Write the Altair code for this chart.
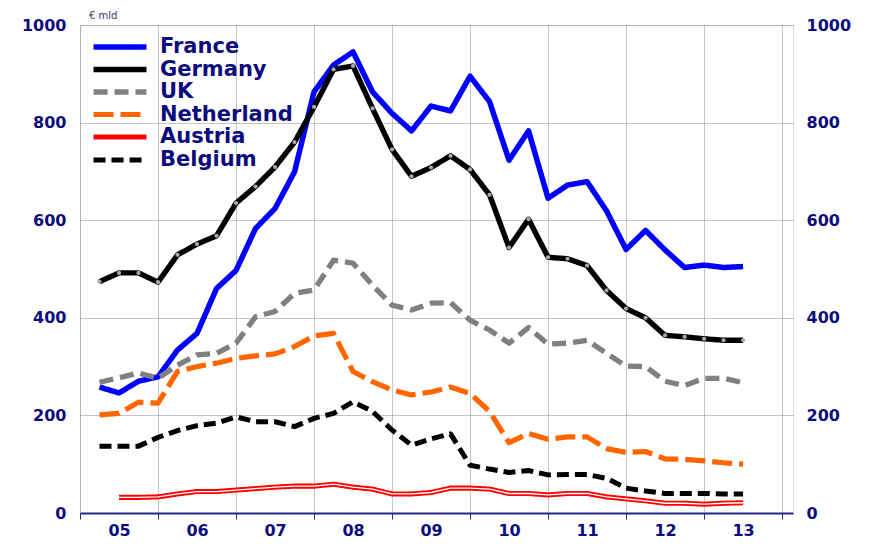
import altair as alt
import pandas as pd

# quarterly periods 2005Q1 .. 2013Q2
periods = [f"{y}Q{q}" for y in range(2005, 2014) for q in range(1, 5)][:34]

france = [258, 246, 270, 279, 334, 368, 460, 497, 583, 624, 699, 863, 918, 945, 863, 819, 783,
          834, 824, 895, 843, 723, 783, 645, 672, 679, 619, 540, 579, 539, 503, 508, 503, 505]
germany = [474, 492, 492, 473, 529, 551, 568, 635, 669, 709, 760, 832, 909, 916, 829, 745, 690,
           708, 732, 704, 652, 544, 602, 524, 521, 507, 456, 419, 400, 364, 361, 357, 354, 354]
uk = [268, 277, 287, 276, 303, 324, 327, 348, 402, 413, 450, 457, 518, 512, 467, 426, 416,
      430, 431, 395, 375, 348, 380, 346, 348, 354, 327, 301, 300, 270, 261, 276, 276, 267]
netherland = [201, 204, 227, 225, 290, 300, 307, 317, 322, 326, 341, 363, 368, 290, 269, 252, 242,
              248, 258, 245, 208, 144, 163, 151, 156, 156, 132, 124, 126, 111, 110, 107, 103, 100]
austria = [None, 32, 32, 33, 39, 44, 44, 47, 50, 53, 55, 55, 59, 53, 49, 39, 39,
           42, 51, 51, 49, 40, 40, 37, 40, 40, 33, 29, 25, 20, 20, 18, 20, 21]
belgium = [137, 137, 137, 155, 169, 179, 184, 197, 187, 187, 177, 194, 204, 228, 208, 170, 139,
           152, 162, 98, 90, 83, 87, 78, 79, 79, 71, 51, 45, 40, 40, 40, 39, 39]

countries = ["France", "Germany", "UK", "Netherland", "Austria", "Belgium"]
series = [france, germany, uk, netherland, austria, belgium]
colors = ["#0000FF", "#000000", "#808080", "#FF6600", "#FF0000", "#000000"]
dashes = [[1, 0], [1, 0], [14, 7], [20, 7], [1, 0], [12, 6]]
widths = [5.5, 5, 5.5, 6, 4, 5]
year_labels = ["05", "06", "07", "08", "09", "10", "11", "12", "13"]

rows = []
for c, vals in zip(countries, series):
    for p, v in zip(periods, vals):
        if v is None:
            continue
        t = (int(p[:4]) - 2005) * 4 + int(p[-1])
        rows.append({"country": c, "period": p, "t": t, "value": v})
df = pd.DataFrame(rows)

NAVY = "#0c0c7c"
FONT = "DejaVu Sans"
label_expr = "[" + ",".join(f"'{s}'" for s in year_labels) + "][datum.value/4] || ''"

x_enc = alt.X(
    "t:Q",
    scale=alt.Scale(domain=[0, 36.56], nice=False, zero=False),
    axis=alt.Axis(
        values=list(range(0, 37, 4)), title=None, grid=True,
        gridDash=[1, 1], gridColor="#8a8a8a", gridWidth=1,
        domainColor="#26268a", domainWidth=2,
        tickColor="#26268a", tickSize=6, tickWidth=1,
        labelOffset=39, labelExpr=label_expr, labelFont=FONT, labelFontSize=16,
        labelFontWeight="bold", labelColor=NAVY, labelOverlap=False,
        labelFlush=False, labelPadding=3,
    ),
)

y_vals = [0, 200, 400, 600, 800, 1000]
y_scale = alt.Scale(domain=[0, 1000], nice=False, zero=True)

leg = alt.Legend(
    title=None, orient="none", legendX=29, legendY=11,
    symbolType="M-3.31,0H3.31", symbolSize=256,
    labelFont=FONT, labelFontSize=21, labelFontWeight="bold", labelColor=NAVY,
    labelOffset=29, rowPadding=0.5, padding=0, labelLimit=0,
)

lines = alt.Chart(df).mark_line(strokeCap="butt", strokeJoin="round").encode(
    x=x_enc,
    y=alt.Y("value:Q", scale=y_scale, axis=alt.Axis(
        values=y_vals, format="d", title=None, grid=True, gridDash=[1, 1], gridColor="#8a8a8a",
        domain=False, ticks=False, labelPadding=14, labelFont=FONT, labelFontSize=16,
        labelFontWeight="bold", labelColor=NAVY)),
    color=alt.Color("country:N", scale=alt.Scale(domain=countries, range=colors), legend=leg),
    strokeDash=alt.StrokeDash("country:N", scale=alt.Scale(domain=countries, range=dashes), legend=leg),
    strokeWidth=alt.StrokeWidth("country:N", scale=alt.Scale(domain=countries, range=widths), legend=leg),
    order=alt.Order("t:Q"),
)

austria_core = alt.Chart(df).transform_filter("datum.country == 'Austria'").mark_line(
    color="white", strokeWidth=1.3
).encode(
    x=x_enc,
    y=alt.Y("value:Q", scale=y_scale, axis=None),
    order=alt.Order("t:Q"),
)

germany_dots = alt.Chart(df).transform_filter("datum.country == 'Germany'").mark_circle(
    color="#a8a8a8", size=18, opacity=1
).encode(
    x=x_enc,
    y=alt.Y("value:Q", scale=y_scale, axis=alt.Axis(
        orient="right", values=y_vals, format="d", title=None, grid=False, domain=False,
        ticks=False, labelPadding=13, labelFont=FONT, labelFontSize=16, labelFontWeight="bold",
        labelColor=NAVY)),
)

chart = alt.layer(lines, austria_core, germany_dots).resolve_axis(y="independent").properties(
    width=713, height=488,
    title=alt.TitleParams(text="€ mld", anchor="start", frame="group", dx=9, offset=-4,
                          fontSize=10, fontWeight="normal", color="#333366", font=FONT),
    autosize=alt.AutoSizeParams(type="none"),
    padding={"left": 72, "top": 17, "right": 60, "bottom": 28},
).configure_view(stroke=None).configure(background="white")

chart.save("out.html", embed_options={"renderer": "svg", "actions": False})
